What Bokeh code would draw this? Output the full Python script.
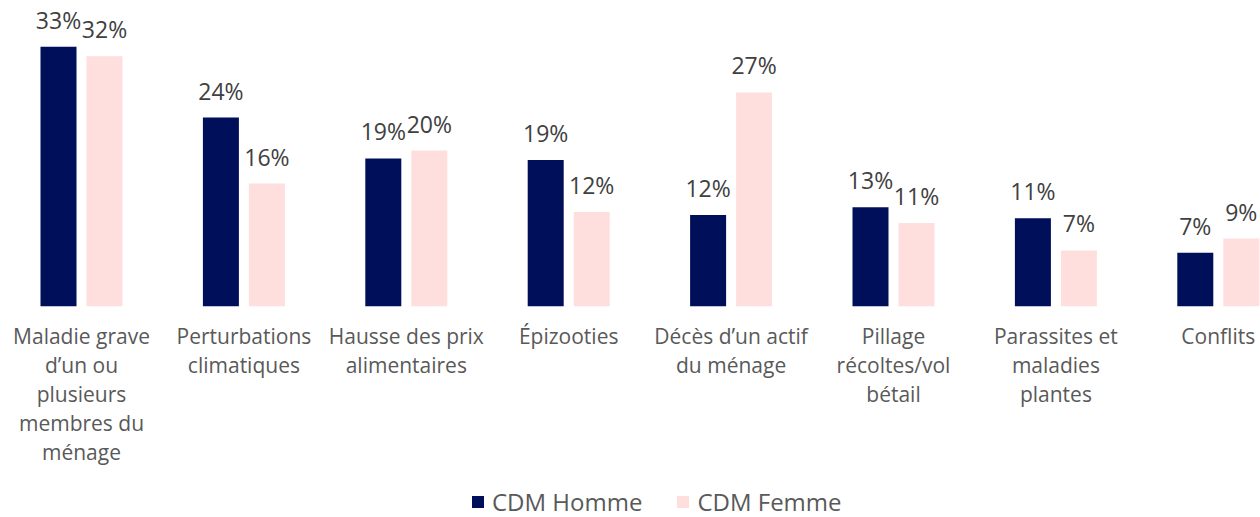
from bokeh.plotting import figure
from bokeh.models import ColumnDataSource, Range1d, Legend, LegendItem
from bokeh.core.properties import value
from bokeh.embed import file_html
from bokeh.resources import INLINE

categories = [
    "Maladie grave\nd\u2019un ou\nplusieurs\nmembres du\nménage",
    "Perturbations\nclimatiques",
    "Hausse des prix\nalimentaires",
    "Épizooties",
    "Décès d\u2019un actif\ndu ménage",
    "Pillage\nrécoltes/vol\nbétail",
    "Parassites et\nmaladies\nplantes",
    "Conflits",
]
homme = [33.0, 24.0, 18.8, 18.6, 11.6, 12.6, 11.2, 6.8]
femme = [31.8, 15.6, 19.8, 12.0, 27.2, 10.6, 7.1, 8.6]
series_names = ["CDM Homme", "CDM Femme"]
colors = ["#000f5a", "#ffdede"]

W, H = 1260, 517
K = 162.4          # px per category
PXV = 7.86         # px per percentage point
BASE = 305.7       # baseline from top (px)
x0 = -81.0 / K
x1 = x0 + W / K
y1 = BASE / PXV
y0 = -(H - BASE) / PXV

p = figure(width=W, height=H, output_backend="svg", toolbar_location=None,
           x_range=Range1d(x0, x1), y_range=Range1d(y0, y1),
           min_border=0, min_border_left=0, min_border_right=0,
           min_border_top=0, min_border_bottom=0)
p.xaxis.visible = False
p.yaxis.visible = False
p.xgrid.visible = False
p.ygrid.visible = False
p.outline_line_color = None
p.background_fill_color = "white"
p.border_fill_color = "white"

off = 23.0 / K
bw = 36.0 / K
xs = list(range(len(categories)))
renderers = []
for vals, sgn, col in [(homme, -1, colors[0]), (femme, 1, colors[1])]:
    src = ColumnDataSource(dict(
        x=[i + sgn * off for i in xs],
        top=vals,
        lab=[f"{round(v):d}%" for v in vals],
    ))
    r = p.vbar(x="x", top="top", bottom=0, width=bw, source=src,
               fill_color=col, line_color=None)
    renderers.append(r)
    p.text(x="x", y="top", text="lab", source=src, y_offset=-27,
           text_align="center", text_baseline="alphabetic",
           text_font=value("Open Sans"), text_font_size="23px",
           text_color="#404040")

# category labels, one line per glyph
lx, ly, lt, lo = [], [], [], []
for i, c in enumerate(categories):
    for j, line in enumerate(c.split("\n")):
        lx.append(i)
        ly.append(0)
        lt.append(line)
        lo.append(30 + 29 * j)
lsrc = ColumnDataSource(dict(x=lx, y=ly, t=lt, o=lo))
p.text(x="x", y="y", text="t", y_offset="o", source=lsrc,
       text_align="center", text_baseline="alphabetic",
       text_font=value("Open Sans"), text_font_size="21px",
       text_color="#595959")

legend = Legend(items=[LegendItem(label=series_names[k], renderers=[renderers[k]])
                       for k in range(2)],
                orientation="horizontal", location=(470, -1),
                glyph_width=15, glyph_height=15, label_height=17,
                label_standoff=7, spacing=33, padding=0, margin=0,
                border_line_color=None, background_fill_alpha=0,
                label_text_font="Open Sans", label_text_font_size="24px",
                label_text_color="#595959")
p.add_layout(legend, "center")

open("out.html", "w").write(file_html(p, INLINE))
